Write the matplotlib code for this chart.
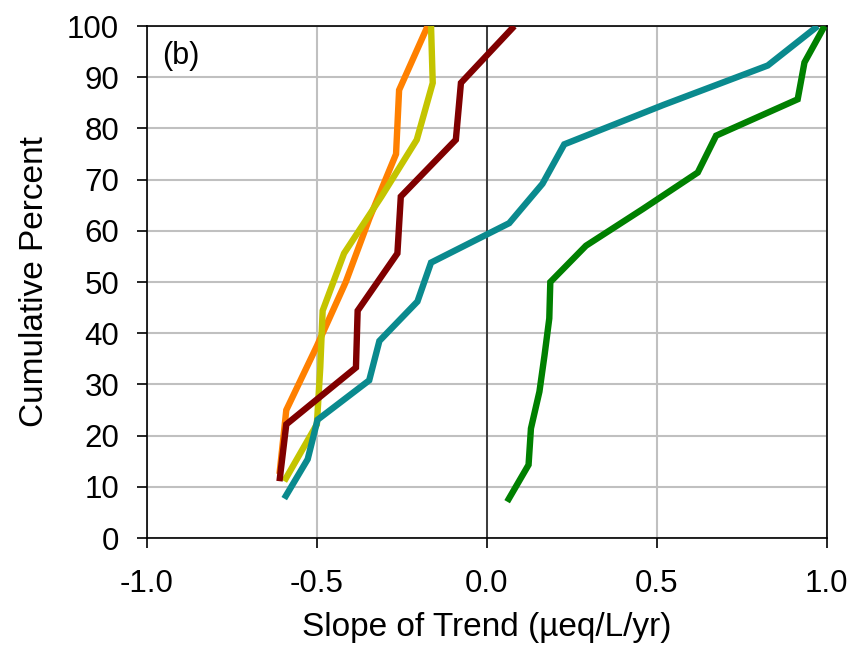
import matplotlib
matplotlib.use("Agg")
import matplotlib.pyplot as plt

plt.rcParams["font.family"] = ["Liberation Sans", "DejaVu Sans"]
plt.rcParams["axes.unicode_minus"] = False

# cumulative percent (y) and trend slope (x) for each site group
orange_pct = [12.5, 25.0, 37.5, 50.0, 62.5, 75.0, 87.5, 100.0]
orange_slope = [-0.61, -0.59, -0.50, -0.415, -0.345, -0.267, -0.258, -0.174]

yellow_pct = [11.1, 22.2, 33.3, 44.4, 55.6, 66.7, 77.8, 88.9, 100.0]
yellow_slope = [-0.596, -0.50, -0.49, -0.483, -0.42, -0.31, -0.206, -0.159, -0.164]

darkred_pct = [11.1, 22.2, 33.3, 44.4, 55.6, 66.7, 77.8, 88.9, 100.0]
darkred_slope = [-0.61, -0.59, -0.385, -0.38, -0.263, -0.253, -0.091, -0.076, 0.081]

teal_pct = [7.7, 15.4, 23.1, 30.8, 38.5, 46.2, 53.8, 61.5, 69.2, 76.9, 84.6, 92.3, 100.0]
teal_slope = [-0.596, -0.527, -0.498, -0.346, -0.316, -0.204, -0.164, 0.066,
              0.164, 0.228, 0.52, 0.827, 0.974]

green_pct = [7.1, 14.3, 21.4, 28.6, 35.7, 42.9, 50.0, 57.1, 64.3, 71.4, 78.6,
             85.7, 92.9, 100.0]
green_slope = [0.06, 0.123, 0.13, 0.155, 0.17, 0.184, 0.187, 0.292, 0.46,
               0.621, 0.675, 0.915, 0.935, 0.994]

x_ticks = [-1.0, -0.5, 0.0, 0.5, 1.0]
x_tick_labels = ["-1.0", "-0.5", "0.0", "0.5", "1.0"]
y_ticks = list(range(0, 101, 10))

series = [
    (orange_slope, orange_pct, "#FF8000"),
    (yellow_slope, yellow_pct, "#C4C400"),
    (darkred_slope, darkred_pct, "#800000"),
    (teal_slope, teal_pct, "#0A8A8E"),
    (green_slope, green_pct, "#008000"),
]

fig = plt.figure(figsize=(8.53, 6.52), dpi=100)
ax = fig.add_axes([0.1723, 0.1748, 0.7967, 0.7852])

for xs, ys, color in series:
    ax.plot(xs, ys, color=color, linewidth=4.6, solid_joinstyle="miter",
            solid_capstyle="butt", zorder=3)

ax.set_xlim(-1.0, 1.0)
ax.set_ylim(0, 100)
ax.set_xticks(x_ticks)
ax.set_xticklabels(x_tick_labels)
ax.set_yticks(y_ticks)

# grid: light gray except the zero line
ax.grid(True, color="#C0C0C0", linewidth=1.5, zorder=1)
ax.axvline(0.0, color="#303030", linewidth=1.3, zorder=2)

for side in ["left", "bottom", "top", "right"]:
    ax.spines[side].set_color("black")
    ax.spines[side].set_linewidth(1.2)

ax.tick_params(axis="both", direction="out", length=7, width=1.2,
               labelsize=22.5)
ax.tick_params(axis="x", pad=15)
ax.tick_params(axis="y", pad=13)

ax.set_xlabel("Slope of Trend (µeq/L/yr)", fontsize=24, labelpad=10)
ax.set_ylabel("Cumulative Percent", fontsize=24, labelpad=12)

ax.text(-0.955, 94.2, "(b)", fontsize=22, va="center", ha="left")

fig.savefig("out.png", dpi=100)
